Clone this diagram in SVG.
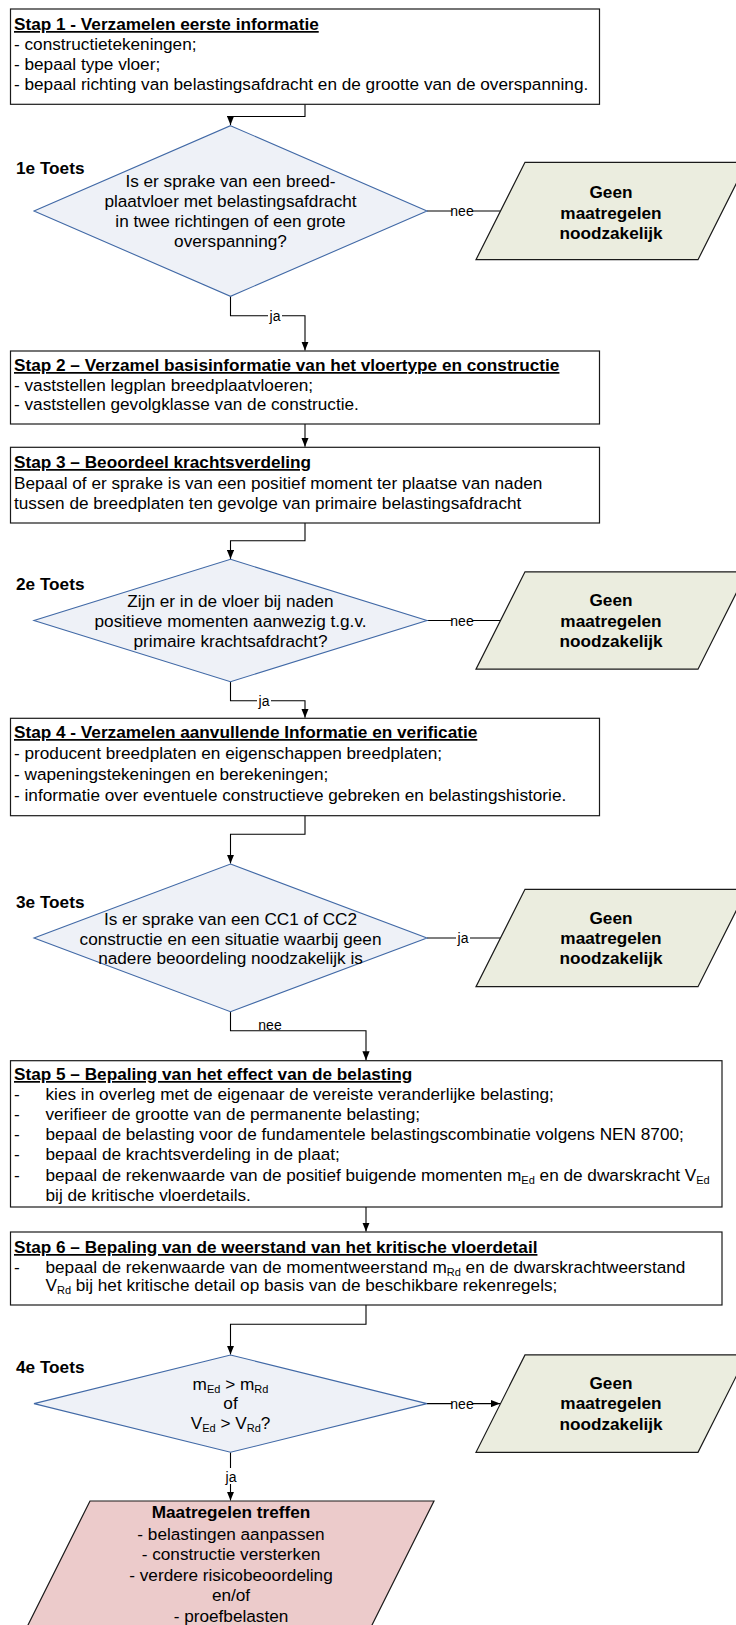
<svg xmlns="http://www.w3.org/2000/svg" width="736" height="1625" viewBox="0 0 736 1625">
<defs>
<style>
.box{fill:#fff;stroke:#1a1a1a;stroke-width:1.2}
.dia{fill:#EEF1F7;stroke:#4169A6;stroke-width:1.1}
.par{fill:#EBEDDF;stroke:#1a1a1a;stroke-width:1.2}
.par5{fill:#ECCBCB;stroke:#1a1a1a;stroke-width:1.2}
text{font-family:"Liberation Sans",Arial,sans-serif;font-size:17.2px;fill:#000}
.b{font-weight:bold}
.u{text-decoration:underline}
.c{text-anchor:middle}
.lbl{font-size:14px;text-anchor:middle}
.conn{fill:none;stroke:#000;stroke-width:1.1}
.bg{fill:#fff}
.s{font-size:11px}
</style>
<marker id="arr" viewBox="0 0 10 8" refX="10" refY="4" markerWidth="9" markerHeight="7.5" markerUnits="userSpaceOnUse" orient="auto">
<path d="M0,0 L10,4 L0,8 z" fill="#000"/>
</marker>
</defs>
<rect width="736" height="1625" fill="#fff"/>

<g id="connectors">
<path class="conn" d="M305,104 V116.5 H230.5 V125" marker-end="url(#arr)"/>
<path class="conn" d="M230.5,296 V315.7 H305 V350.5" marker-end="url(#arr)"/>
<path class="conn" d="M427,211 H500.5"/>
<path class="conn" d="M305,424 V446.8" marker-end="url(#arr)"/>
<path class="conn" d="M305,523 V540.7 H230.5 V559" marker-end="url(#arr)"/>
<path class="conn" d="M427,620.5 H500.5"/>
<path class="conn" d="M230.5,681.7 V700.7 H305 V717.8" marker-end="url(#arr)"/>
<path class="conn" d="M305,816 V834.3 H230.5 V863.6" marker-end="url(#arr)"/>
<path class="conn" d="M427,938 H500.5"/>
<path class="conn" d="M230.5,1011.7 V1030.7 H366 V1060.3" marker-end="url(#arr)"/>
<path class="conn" d="M366,1207 V1231.6" marker-end="url(#arr)"/>
<path class="conn" d="M366,1305 V1324.3 H230.5 V1354.6" marker-end="url(#arr)"/>
<path class="conn" d="M427,1403.6 H500" marker-end="url(#arr)"/>
<path class="conn" d="M230.5,1452.3 V1500.6" marker-end="url(#arr)"/>
<rect class="bg" x="452" y="203" width="20" height="14"/>
<text class="lbl" x="462" y="216">nee</text>
<rect class="bg" x="268" y="307" width="14" height="16"/>
<text class="lbl" x="275" y="320.5">ja</text>
<rect class="bg" x="452" y="612" width="20" height="14"/>
<text class="lbl" x="462" y="625.5">nee</text>
<rect class="bg" x="257" y="692" width="14" height="16"/>
<text class="lbl" x="264" y="705.5">ja</text>
<rect class="bg" x="456" y="930" width="14" height="16"/>
<text class="lbl" x="463" y="943">ja</text>
<rect class="bg" x="260" y="1019" width="21" height="11"/>
<text class="lbl" x="270" y="1029.5">nee</text>
<rect class="bg" x="452" y="1396" width="20" height="14"/>
<text class="lbl" x="462" y="1408.5">nee</text>
<rect class="bg" x="224" y="1468" width="14" height="16"/>
<text class="lbl" x="231" y="1481.5">ja</text>
</g>

<g id="stap1">
<rect class="box" x="10.5" y="9" width="589" height="95.3"/>
<text x="14" y="30" class="b u">Stap 1 - Verzamelen eerste informatie</text>
<text x="14" y="50">- constructietekeningen;</text>
<text x="14" y="70">- bepaal type vloer;</text>
<text x="14" y="90">- bepaal richting van belastingsafdracht en de grootte van de overspanning.</text>
</g>

<g id="toets1">
<text x="16" y="174" class="b">1e Toets</text>
<polygon class="dia" points="230.5,125.7 427,211 230.5,296.3 34,211"/>
<text class="c" x="230.5" y="187">Is er sprake van een breed-</text>
<text class="c" x="230.5" y="207">plaatvloer met belastingsafdracht</text>
<text class="c" x="230.5" y="227">in twee richtingen of een grote</text>
<text class="c" x="230.5" y="247">overspanning?</text>
</g>

<g id="geen1">
<polygon class="par" points="525,162.3 747,162.3 698,259.7 476,259.7"/>
<text class="c b" x="611" y="198">Geen</text>
<text class="c b" x="611" y="219">maatregelen</text>
<text class="c b" x="611" y="239">noodzakelijk</text>
</g>

<g id="stap2">
<rect class="box" x="10.5" y="351" width="589" height="73"/>
<text x="14" y="371" class="b u">Stap 2 – Verzamel basisinformatie van het vloertype en constructie</text>
<text x="14" y="391">- vaststellen legplan breedplaatvloeren;</text>
<text x="14" y="410">- vaststellen gevolgklasse van de constructie.</text>
</g>

<g id="stap3">
<rect class="box" x="10.5" y="447.3" width="589" height="75.7"/>
<text x="14" y="468" class="b u">Stap 3 – Beoordeel krachtsverdeling</text>
<text x="14" y="489">Bepaal of er sprake is van een positief moment ter plaatse van naden</text>
<text x="14" y="509">tussen de breedplaten ten gevolge van primaire belastingsafdracht</text>
</g>

<g id="toets2">
<text x="16" y="590" class="b">2e Toets</text>
<polygon class="dia" points="230.5,559.3 427,620.5 230.5,681.7 34,620.5"/>
<text class="c" x="230.5" y="607">Zijn er in de vloer bij naden</text>
<text class="c" x="230.5" y="627">positieve momenten aanwezig t.g.v.</text>
<text class="c" x="230.5" y="647">primaire krachtsafdracht?</text>
</g>

<g id="geen2">
<polygon class="par" points="525,571.8 747,571.8 698,669.2 476,669.2"/>
<text class="c b" x="611" y="606">Geen</text>
<text class="c b" x="611" y="627">maatregelen</text>
<text class="c b" x="611" y="647">noodzakelijk</text>
</g>

<g id="stap4">
<rect class="box" x="10.5" y="718.3" width="589" height="97.4"/>
<text x="14" y="738" class="b u">Stap 4 - Verzamelen aanvullende Informatie en verificatie</text>
<text x="14" y="759">- producent breedplaten en eigenschappen breedplaten;</text>
<text x="14" y="780">- wapeningstekeningen en berekeningen;</text>
<text x="14" y="801">- informatie over eventuele constructieve gebreken en belastingshistorie.</text>
</g>

<g id="toets3">
<text x="16" y="908" class="b">3e Toets</text>
<polygon class="dia" points="230.5,864 427,938 230.5,1011.7 34,938"/>
<text class="c" x="230.5" y="925">Is er sprake van een CC1 of CC2</text>
<text class="c" x="230.5" y="945">constructie en een situatie waarbij geen</text>
<text class="c" x="230.5" y="964">nadere beoordeling noodzakelijk is</text>
</g>

<g id="geen3">
<polygon class="par" points="525,889.3 747,889.3 698,986.7 476,986.7"/>
<text class="c b" x="611" y="924">Geen</text>
<text class="c b" x="611" y="944">maatregelen</text>
<text class="c b" x="611" y="964">noodzakelijk</text>
</g>

<g id="stap5">
<rect class="box" x="10.5" y="1060.7" width="711.5" height="146.3"/>
<text x="14" y="1080" class="b u">Stap 5 – Bepaling van het effect van de belasting</text>
<text x="14" y="1100">-</text><text x="45.5" y="1100">kies in overleg met de eigenaar de vereiste veranderlijke belasting;</text>
<text x="14" y="1120">-</text><text x="45.5" y="1120">verifieer de grootte van de permanente belasting;</text>
<text x="14" y="1140">-</text><text x="45.5" y="1140">bepaal de belasting voor de fundamentele belastingscombinatie volgens NEN 8700;</text>
<text x="14" y="1160">-</text><text x="45.5" y="1160">bepaal de krachtsverdeling in de plaat;</text>
<text x="14" y="1181">-</text><text x="45.5" y="1181">bepaal de rekenwaarde van de positief buigende momenten m<tspan class="s" dy="3">Ed</tspan><tspan dy="-3"> en de dwarskracht V</tspan><tspan class="s" dy="3">Ed</tspan></text>
<text x="45.5" y="1201">bij de kritische vloerdetails.</text>
</g>

<g id="stap6">
<rect class="box" x="10.5" y="1232" width="711.5" height="73"/>
<text x="14" y="1253" class="b u">Stap 6 – Bepaling van de weerstand van het kritische vloerdetail</text>
<text x="14" y="1272.5">-</text><text x="45.5" y="1272.5">bepaal de rekenwaarde van de momentweerstand m<tspan class="s" dy="3">Rd</tspan><tspan dy="-3"> en de dwarskrachtweerstand</tspan></text>
<text x="45.5" y="1291">V<tspan class="s" dy="3">Rd</tspan><tspan dy="-3"> bij het kritische detail op basis van de beschikbare rekenregels;</tspan></text>
</g>

<g id="toets4">
<text x="16" y="1373" class="b">4e Toets</text>
<polygon class="dia" points="230.5,1355 427,1403.6 230.5,1452.3 34,1403.6"/>
<text class="c" x="230.5" y="1390">m<tspan class="s" dy="3">Ed</tspan><tspan dy="-3"> &gt; m</tspan><tspan class="s" dy="3">Rd</tspan></text>
<text class="c" x="230.5" y="1409">of</text>
<text class="c" x="230.5" y="1429">V<tspan class="s" dy="3">Ed</tspan><tspan dy="-3"> &gt; V</tspan><tspan class="s" dy="3">Rd</tspan><tspan dy="-3">?</tspan></text>
</g>

<g id="geen4">
<polygon class="par" points="525,1354.9 747,1354.9 698,1452.3 476,1452.3"/>
<text class="c b" x="611" y="1389">Geen</text>
<text class="c b" x="611" y="1409">maatregelen</text>
<text class="c b" x="611" y="1430">noodzakelijk</text>
</g>

<g id="maatregelen">
<polygon class="par5" points="90,1501 434,1501 364.5,1640 20.5,1640"/>
<text class="c b" x="231" y="1518">Maatregelen treffen</text>
<text class="c" x="231" y="1540">- belastingen aanpassen</text>
<text class="c" x="231" y="1560">- constructie versterken</text>
<text class="c" x="231" y="1581">- verdere risicobeoordeling</text>
<text class="c" x="231" y="1601">en/of</text>
<text class="c" x="231" y="1622">- proefbelasten</text>
</g>
</svg>
